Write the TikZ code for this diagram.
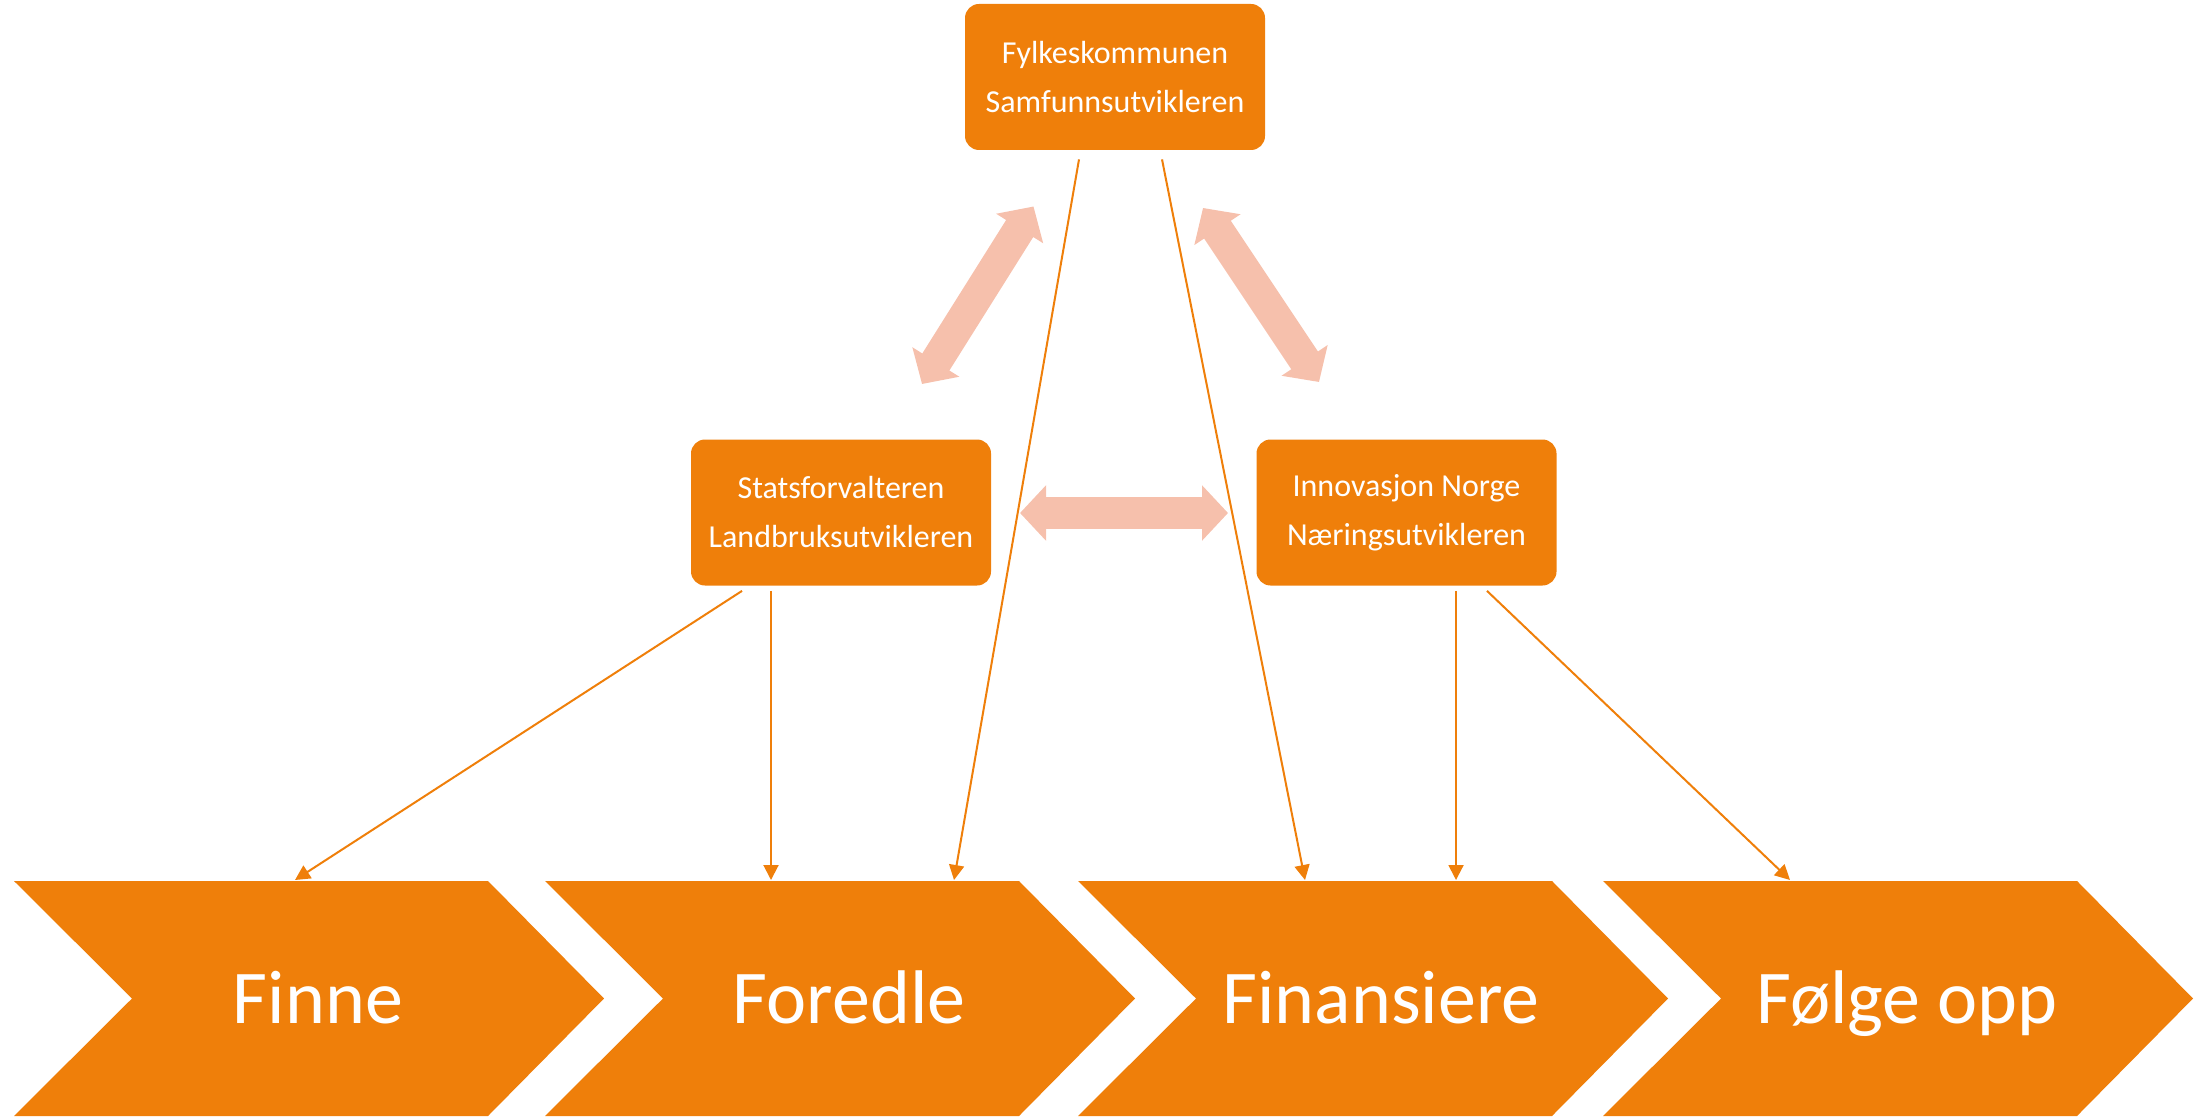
\documentclass[tikz,border=0pt]{standalone}
\usepackage{fontspec}
\setmainfont{Carlito}
\usetikzlibrary{arrows.meta,calc}
\definecolor{org}{RGB}{239,127,10}
\definecolor{salmon}{RGB}{246,192,172}
\begin{document}
\begin{tikzpicture}[x=0.5pt,y=-0.5pt,
  actor/.style={fill=org, rounded corners=7pt, text=white, font=\fontsize{16}{24.5}\selectfont, align=center, minimum width=150pt, minimum height=73pt, inner sep=0pt},
  conn/.style={draw=org, line width=1pt, -{Triangle[length=7.5pt,width=7.5pt]}},
  link/.style={draw=salmon, line width=16pt, {Triangle[length=13pt,width=27pt]}-{Triangle[length=13pt,width=27pt]}},
  chev/.style={fill=org},
  phase/.style={text=white, font=\fontsize{38}{44}\selectfont, anchor=base, inner sep=0pt}
]
\useasboundingbox (0,0) rectangle (2203,1117);

% chevrons
\foreach \x in {14,545,1078,1603}{
  \fill[chev] (\x,881) -- (\x+474,881) -- (\x+590,998.5) -- (\x+474,1116) -- (\x,1116) -- (\x+118,998.5) -- cycle;
}
\node[phase] (finne) at (318,1023) {Finne};
\node[phase] (foredle) at (849,1023) {Foredle};
\node[phase] (finansiere) at (1381,1023) {Finansiere};
\node[phase] (folge) at (1907,1023) {Følge opp};

% boxes
\node[actor] (fylke) at (1115,77) {Fylkeskommunen\\Samfunnsutvikleren};
\node[actor] (stats) at (841,512.5) {Statsforvalteren\\Landbruksutvikleren};
\node[actor] (innov) at (1406.5,512.5) {Innovasjon Norge\\Næringsutvikleren};

% target points on chevron tops
\coordinate (t1) at (295,880);
\coordinate (t2) at (771,880);
\coordinate (t3) at (954,880);
\coordinate (t4) at (1305,880);
\coordinate (t5) at (1456,880);
\coordinate (t6) at (1790,880);

\draw[conn] ($(stats.south)+(-99,5)$) -- (t1);
\draw[conn] ($(stats.south)+(-70,5)$) -- (t2);
\draw[conn] ($(fylke.south)+(-36,9)$) -- (t3);
\draw[conn] ($(fylke.south)+(47,9)$) -- (t4);
\draw[conn] ($(innov.south)+(49.5,5)$) -- (t5);
\draw[conn] ($(innov.south)+(80.5,5)$) -- (t6);

% thick double arrows
\coordinate (la) at (922,384);
\coordinate (lb) at (1033.5,206.5);
\coordinate (ra) at (1203,208);
\coordinate (rb) at (1319,382);
\coordinate (ha) at (1020,513);
\coordinate (hb) at (1228,513);
\draw[link] (la) -- (lb);
\draw[link] (ra) -- (rb);
\draw[link] (ha) -- (hb);
\end{tikzpicture}
\end{document}
